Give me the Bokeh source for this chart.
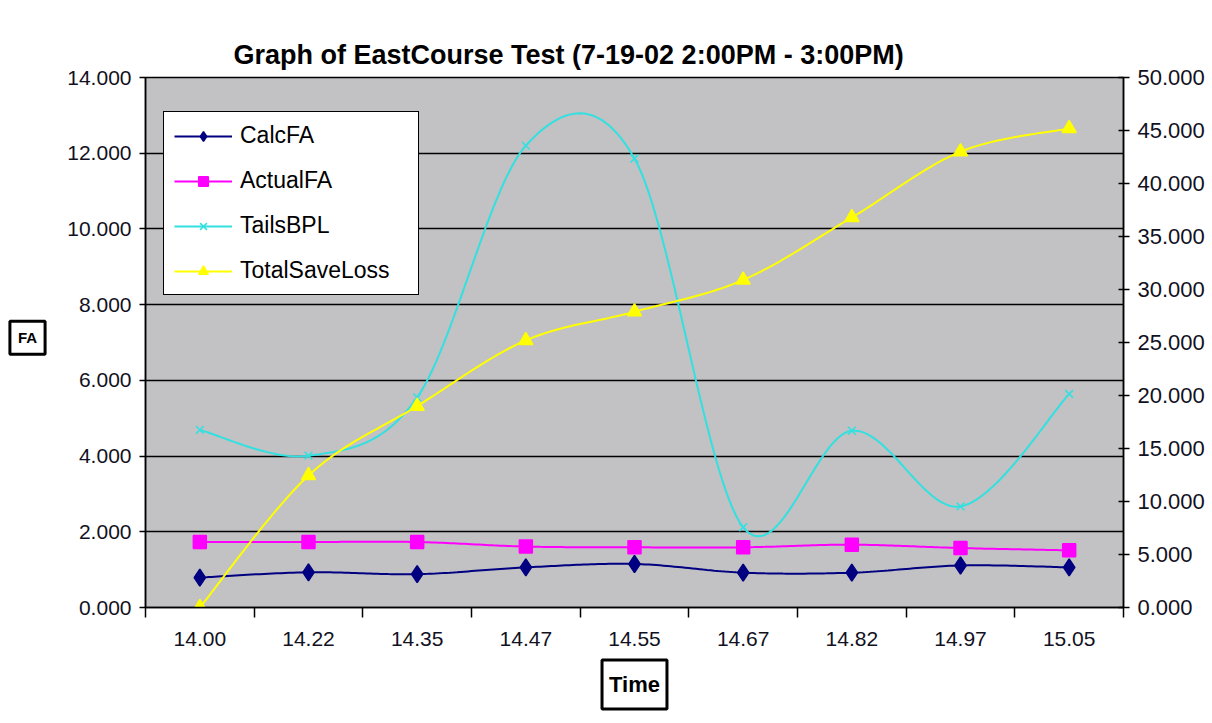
import numpy as np
from bokeh.plotting import figure
from bokeh.layouts import row
from bokeh.models import (Range1d, LinearAxis, FixedTicker, Legend, LegendItem,
                          NumeralTickFormatter, Title, Label)
from bokeh.embed import file_html
from bokeh.resources import INLINE

# Sample times (hour.fraction) and the four measured series
times = ["14.00", "14.22", "14.35", "14.47", "14.55", "14.67", "14.82", "14.97", "15.05"]
calc_fa = [0.79, 0.93, 0.88, 1.06, 1.15, 0.92, 0.92, 1.11, 1.06]
actual_fa = [1.73, 1.73, 1.73, 1.61, 1.59, 1.59, 1.66, 1.57, 1.51]
tails_bpl = [4.69, 4.01, 5.55, 12.20, 11.86, 2.12, 4.67, 2.67, 5.64]
total_save_loss = [0.0, 12.45, 19.0, 25.2, 27.9, 30.9, 36.8, 43.0, 45.2]

left_ticks = [0, 2, 4, 6, 8, 10, 12, 14]
right_ticks = [0, 5, 10, 15, 20, 25, 30, 35, 40, 45, 50]

FONT = "Liberation Sans"
H = 723
SIDE_W = 54          # strip that carries the boxed "FA" axis title

# categories sit in the middle of unit-wide slots
xs = np.arange(len(times)) + 0.5


def smooth(xv, yv, n=30):
    """Cubic Bezier smoothing through every point (Catmull-Rom tangents)."""
    xv = np.asarray(xv, float)
    yv = np.asarray(yv, float)
    px = np.concatenate([[xv[0]], xv, [xv[-1]]])
    py = np.concatenate([[yv[0]], yv, [yv[-1]]])
    ox, oy = [], []
    m = len(xv) - 1
    for i in range(m):
        x0, x1, x2, x3 = px[i:i + 4]
        y0, y1, y2, y3 = py[i:i + 4]
        cx1, cy1 = x1 + (x2 - x0) / 6, y1 + (y2 - y0) / 6
        cx2, cy2 = x2 - (x3 - x1) / 6, y2 - (y3 - y1) / 6
        t = np.linspace(0, 1, n, endpoint=(i == m - 1))
        a, b, c, d = (1 - t) ** 3, 3 * (1 - t) ** 2 * t, 3 * (1 - t) * t ** 2, t ** 3
        ox.extend(a * x1 + b * cx1 + c * cx2 + d * x2)
        oy.extend(a * y1 + b * cy1 + c * cy2 + d * y2)
    return ox, oy


p = figure(width=1212 - SIDE_W, height=H, x_range=Range1d(0, len(times)), y_range=Range1d(0, 14),
           output_backend="svg", toolbar_location=None,
           min_border_left=145 - SIDE_W, min_border_right=89, min_border_top=77, min_border_bottom=116)
p.extra_y_ranges = {"right": Range1d(0, 50)}

p.background_fill_color = "#C2C1C4"
p.border_fill_color = "white"
p.outline_line_color = "black"
p.outline_line_width = 1.5

# the bottom category axis and the left value axis created by figure()
xa = p.below[0]
ya = p.left[0]

# empty strip between the plot area and the title (no ticks, so nothing is drawn)
gap = LinearAxis(ticker=FixedTicker(ticks=[]), axis_line_color=None,
                 major_tick_line_color="white", minor_tick_line_color=None,
                 major_tick_out=31, major_tick_in=0, minor_tick_out=0, minor_tick_in=0,
                 major_label_standoff=0, major_label_text_font_size="1px")
p.add_layout(gap, "above")

p.title.text = "Graph of EastCourse Test (7-19-02 2:00PM - 3:00PM)"
p.title.align = "left"
p.title.offset = 88
p.title.text_font = FONT
p.title.text_font_style = "bold"
p.title.text_font_size = "27px"
p.title.text_color = "black"
p.title.standoff = 16

# left value axis
ya.ticker = FixedTicker(ticks=left_ticks)
ya.formatter = NumeralTickFormatter(format="0.000")
# right value axis
ax_r = LinearAxis(y_range_name="right", ticker=FixedTicker(ticks=right_ticks),
                  formatter=NumeralTickFormatter(format="0.000"))
p.add_layout(ax_r, "right")

for ax in (ya, ax_r):
    ax.major_label_text_font = FONT
    ax.major_label_text_font_size = "21px"
    ax.major_label_text_color = "#111122"
    ax.axis_line_color = "black"
    ax.axis_line_width = 1.5
    ax.major_tick_line_color = "black"
    ax.major_tick_line_width = 1.5
    ax.major_tick_out = 6
    ax.major_tick_in = 0
    ax.minor_tick_line_color = None
    ax.major_label_standoff = 8
ax_r.major_tick_in = 5
ax_r.major_label_text_font_size = "22px"

# category axis: labels at slot centres, tick marks at slot boundaries
xa.ticker = FixedTicker(ticks=list(xs), minor_ticks=list(range(len(times) + 1)))
xa.major_label_overrides = {float(v): t for v, t in zip(xs, times)}
xa.major_label_text_font = FONT
xa.major_label_text_font_size = "21px"
xa.major_label_text_color = "#111122"
xa.major_tick_out = 0
xa.major_tick_in = 0
xa.minor_tick_out = 10
xa.minor_tick_in = 0
xa.minor_tick_line_color = "black"
xa.minor_tick_line_width = 1.5
xa.axis_line_color = "black"
xa.axis_line_width = 1.5
xa.major_label_standoff = 14

p.xgrid.visible = False
p.ygrid.ticker = FixedTicker(ticks=left_ticks[1:-1])
p.ygrid.grid_line_color = "black"
p.ygrid.grid_line_width = 1.5

# series
series = [
    ("CalcFA", calc_fa, "#000080", "diamond", 17, "default"),
    ("ActualFA", actual_fa, "#FF00FF", "square", 13, "default"),
    ("TailsBPL", tails_bpl, "#33E0E0", "x", 11, "default"),
    ("TotalSaveLoss", total_save_loss, "#FFFF00", "triangle", 14, "right"),
]
items = []
for name, vals, col, mk, sz, rng in series:
    sx, sy = smooth(xs, vals)
    ln = p.line(sx, sy, line_color=col, line_width=2, y_range_name=rng)
    sc = p.scatter(xs, vals, marker=mk, size=sz, fill_color=col, line_color=col,
                   line_width=1.5, y_range_name=rng)
    items.append(LegendItem(label=name, renderers=[ln, sc]))

legend = Legend(items=items, location=(18, 312),
                background_fill_color="white", background_fill_alpha=1,
                border_line_color="black", border_line_alpha=1, border_line_width=1.5,
                label_text_font=FONT, label_text_font_size="23px", label_text_color="black",
                glyph_width=58, glyph_height=24, label_height=24, label_width=168,
                spacing=18, padding=10, margin=0, label_standoff=8)
p.add_layout(legend)

# boxed category-axis title
time_box = Title(text="Time", align="center", standoff=19,
                 text_font=FONT, text_font_style="bold", text_font_size="22px",
                 text_color="black", border_line_color="black", border_line_width=3,
                 background_fill_color="white", padding=(7, 12))
p.add_layout(time_box, "below")

# narrow strip left of the chart holding the boxed value-axis title
side = figure(width=SIDE_W, height=H, x_range=Range1d(0, SIDE_W), y_range=Range1d(0, H),
              output_backend="svg", toolbar_location=None,
              min_border=0, x_axis_type=None, y_axis_type=None)
side.outline_line_color = None
side.background_fill_color = "white"
side.border_fill_color = "white"
side.xgrid.visible = False
side.ygrid.visible = False
side.add_layout(Label(x=27, y=H - 355, text="FA", text_font=FONT, text_font_style="bold",
                      text_font_size="15px", text_color="black",
                      text_align="center", text_baseline="middle",
                      border_line_color="black", border_line_width=3,
                      background_fill_color="white", padding=(8, 8)))

layout = row(side, p, spacing=0)
open("out.html", "w").write(file_html(layout, INLINE))
